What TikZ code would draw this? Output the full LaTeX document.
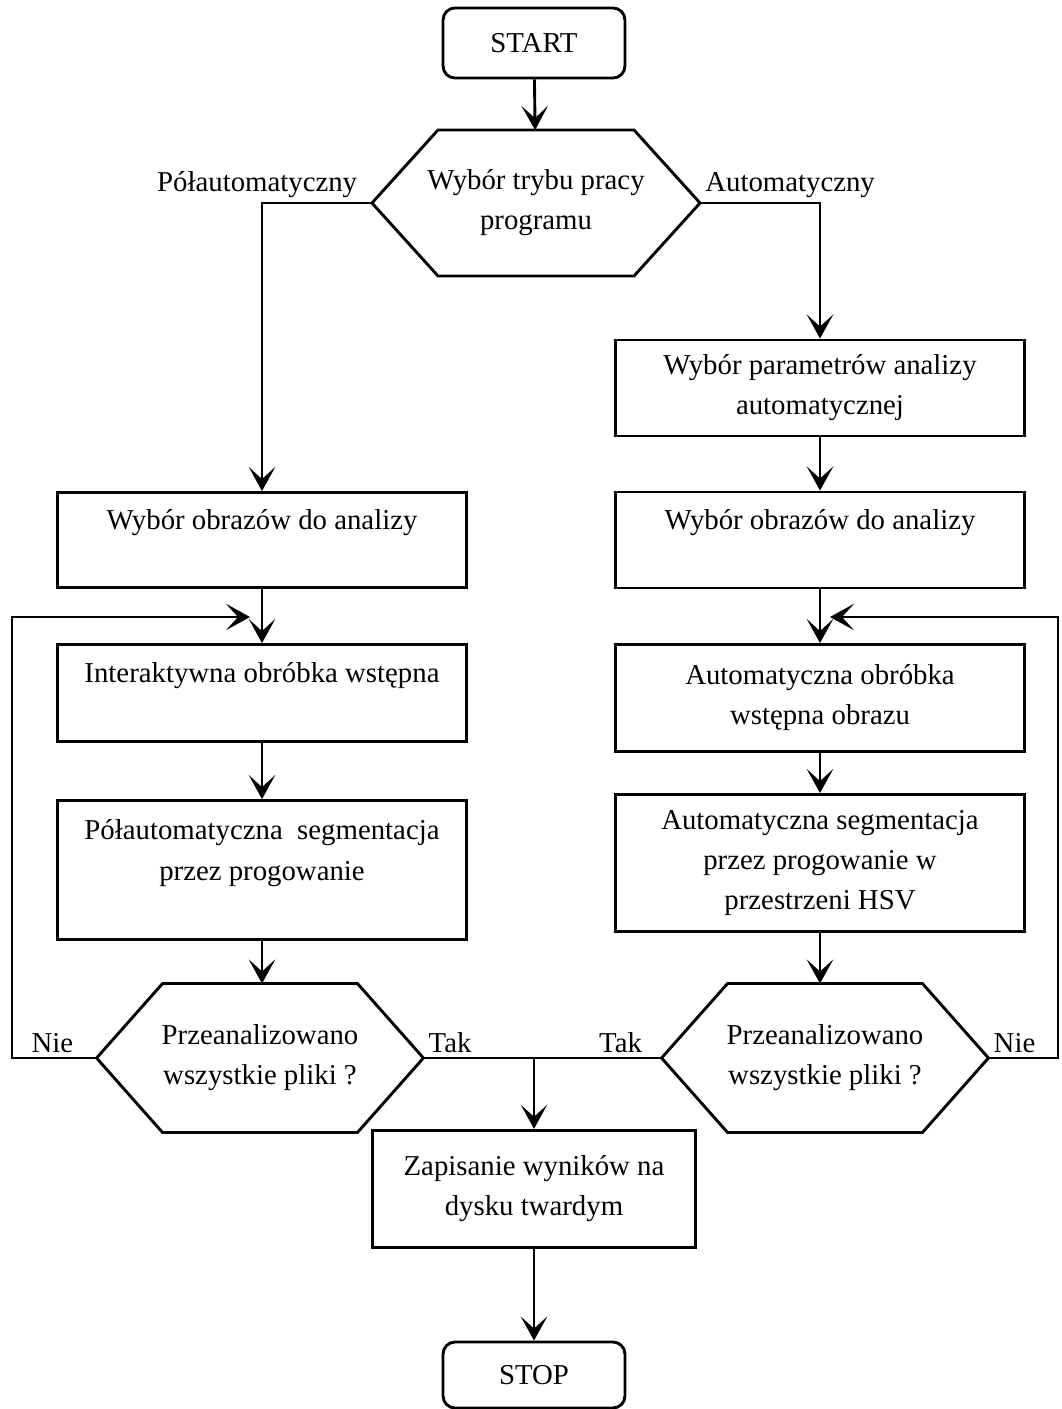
\documentclass[tikz,border=0pt]{standalone}
\usepackage{fontspec}
\setmainfont{Liberation Serif}
\usetikzlibrary{arrows.meta}

\newcommand\drawhex[1]{\draw[line width=1.2pt] (#1.west) -- ([xshift=27.5pt]#1.north west) -- ([xshift=-27.5pt]#1.north east) -- (#1.east) -- ([xshift=-27.5pt]#1.south east) -- ([xshift=27.5pt]#1.south west) -- cycle;}

\begin{document}
\begin{tikzpicture}[
        x=0.4167pt, y=-0.4167pt,
        every node/.style={font=\fontsize{12}{16.7}\selectfont},
        terminal/.style={rectangle, draw, rounded corners=5pt, line width=1.2pt, minimum width=75.8pt, minimum height=29.2pt},
        block/.style={rectangle, draw, line width=1.2pt, align=center, minimum width=170.4pt},
        decision/.style={rectangle, align=center, minimum width=135.8pt, minimum height=61.7pt},
        flow/.style={line width=1.2pt, -{Stealth[length=10pt, width=11pt, inset=5pt]}},
        link/.style={line width=1.2pt},
        lbl/.style={inner sep=2pt}
    ]
        \useasboundingbox (0,0) rectangle (1061,1409);

        \node[terminal] (start) at (534,43) {START};
        \node[decision, minimum width=136.3pt, minimum height=60.4pt] (tryb) at (536,203) {Wybór trybu pracy\\programu};

        \node[block, minimum height=40pt] (param) at (820,388) {Wybór parametrów analizy\\automatycznej};
        \node[block, minimum height=40pt] (obrR) at (820,540) {Wybór obrazów do analizy\\\mbox{}};
        \node[block, minimum height=44.6pt] (wstR) at (820,698) {Automatyczna obróbka\\wstępna obrazu};
        \node[block, minimum height=57.1pt] (segR) at (820,863) {Automatyczna segmentacja\\przez progowanie w\\przestrzeni HSV};
        \node[decision] (hexR) at (825,1058) {Przeanalizowano\\wszystkie pliki ?};

        \node[block, minimum height=39.6pt] (obrL) at (262,540) {Wybór obrazów do analizy\\\mbox{}};
        \node[block, minimum height=40.4pt] (wstL) at (262,693) {Interaktywna obróbka wstępna\\\mbox{}};
        \node[block, minimum height=57.9pt] (segL) at (262,870) {Półautomatyczna~ segmentacja\\przez progowanie\\\mbox{}};
        \node[decision] (hexL) at (260,1058) {Przeanalizowano\\wszystkie pliki ?};

        \node[block, minimum width=134.6pt, minimum height=49pt] (zapis) at (534,1189) {Zapisanie wyników na\\dysku twardym};
        \node[terminal, minimum height=27.5pt] (stop) at (534,1375) {STOP};

        \drawhex{tryb}
        \drawhex{hexL}
        \drawhex{hexR}

        \coordinate (cornerL) at (12,617);
        \coordinate (loopL) at (250,617);
        \coordinate (cornerR) at (1058,617);
        \coordinate (loopR) at (830,617);
        \coordinate (join) at (zapis.north |- hexL.east);

        \node[lbl, anchor=south east, xshift=-4pt] (pol) at (tryb.west) {Półautomatyczny};
        \node[lbl, anchor=south west] (auto) at (tryb.east) {Automatyczny};
        \node[lbl, anchor=south west, xshift=6pt] (nieL) at (cornerL |- hexL.west) {Nie};
        \node[lbl, anchor=south west] (takL) at (hexL.east) {Tak};
        \node[lbl, anchor=south east, xshift=-6pt] (takR) at (hexR.west) {Tak};
        \node[lbl, anchor=south west] (nieR) at (hexR.east) {Nie};

        \draw[flow] (start)--(tryb);
        \draw[flow] (tryb.west) -| (obrL);
        \draw[flow] (tryb.east) -| (param);
        \draw[flow] (param)--(obrR);
        \draw[flow] (obrR)--(wstR);
        \draw[flow] (wstR)--(segR);
        \draw[flow] (segR) -- (segR |- hexR.north);
        \draw[flow] (obrL)--(wstL);
        \draw[flow] (wstL)--(segL);
        \draw[flow] (segL) -- (segL |- hexL.north);
        \draw[flow] (hexL.west) -| (cornerL) -- (loopL);
        \draw[flow] (hexR.east) -| (cornerR) -- (loopR);
        \draw[link] (hexL.east) -- (hexR.west);
        \draw[flow] (join) -- (zapis);
        \draw[flow] (zapis)--(stop);
    \end{tikzpicture}
\end{document}
